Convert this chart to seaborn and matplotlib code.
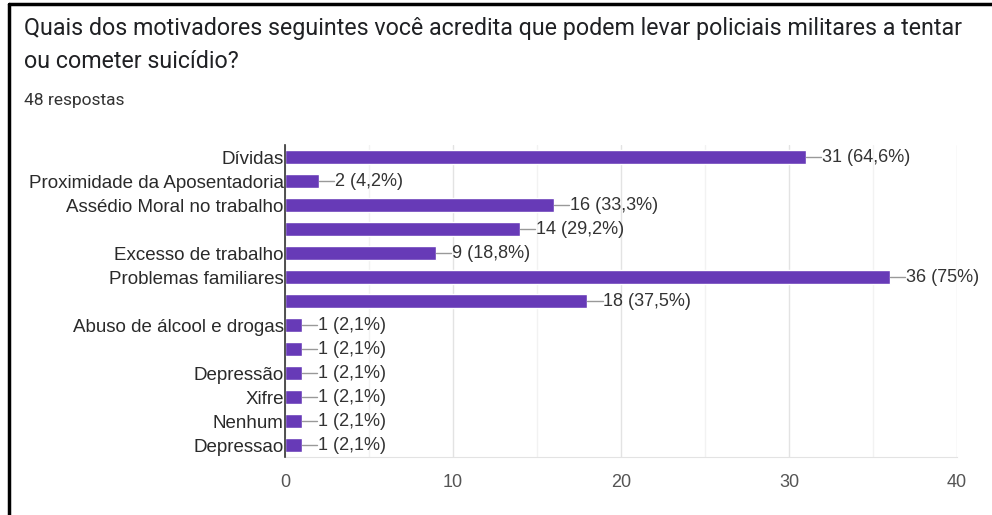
import matplotlib.pyplot as plt
import seaborn as sns
import pandas as pd
from matplotlib.lines import Line2D

# Dados do gráfico (respostas do formulário)
motivadores = [
    "Dívidas",
    "Proximidade da Aposentadoria",
    "Assédio Moral no trabalho",
    "",
    "Excesso de trabalho",
    "Problemas familiares",
    " ",
    "Abuso de álcool e drogas",
    "  ",
    "Depressão",
    "Xifre",
    "Nenhum",
    "Depressao",
]
respostas = [31, 2, 16, 14, 9, 36, 18, 1, 1, 1, 1, 1, 1]
total_respostas = 48

titulo_l1 = "Quais dos motivadores seguintes você acredita que podem levar policiais militares a tentar"
titulo_l2 = "ou cometer suicídio?"
subtitulo = f"{total_respostas} respostas"
xticks = [0, 10, 20, 30, 40]

df = pd.DataFrame({"motivador": motivadores, "respostas": respostas})

sns.set_style("white")
plt.rcParams['font.family'] = ['Liberation Sans', 'DejaVu Sans']

fig = plt.figure(figsize=(9.92, 5.15), dpi=100)
ax = fig.add_axes([0.2873, 0.1126, 0.6774, 0.6058])

roxo = "#673AB7"
sns.barplot(data=df, x="respostas", y="motivador", orient="h", color=roxo,
            width=0.6, saturation=1, ax=ax, zorder=3)

ax.set_xlim(0, 40)
ax.set_ylim(len(motivadores) - 0.5, -0.5)
ax.set_xticks(xticks)
ax.set_xticks([5, 15, 25, 35], minor=True)
ax.grid(axis="x", which="major", color="#e3e3e3", lw=1, zorder=0)
ax.grid(axis="x", which="minor", color="#f2f2f2", lw=1, zorder=0)
ax.set_xlabel("")
ax.set_ylabel("")

for lado in ["top", "right"]:
    ax.spines[lado].set_visible(False)
ax.spines["bottom"].set_color("#e3e3e3")
ax.spines["left"].set_color("#333333")
ax.spines["left"].set_linewidth(1.2)
ax.spines["left"].set_zorder(4)

ax.tick_params(axis="x", length=0, pad=12, labelsize=13, labelcolor="#555555")
ax.tick_params(axis="y", length=0, pad=1, labelsize=13.5, labelcolor="#2a2a2a")

# rótulos com linha de ligação
for i, v in enumerate(respostas):
    pct = f"{v / total_respostas * 100:.1f}".replace(".0", "").replace(".", ",")
    ax.plot([v, v + 0.9], [i, i], color="#999999", lw=1, zorder=4)
    ax.text(v + 0.95, i, f"{v} ({pct}%)", va="center", ha="left",
            fontsize=13, color="#333333", zorder=5)

fig.text(24 / 992, 1 - 28 / 515, titulo_l1, fontsize=16.75, family="Roboto",
         color="#202124", va="center", ha="left")
fig.text(24 / 992, 1 - 62 / 515, titulo_l2, fontsize=16.75, family="Roboto",
         color="#202124", va="center", ha="left")
fig.text(24 / 992, 1 - 100 / 515, subtitulo, fontsize=12.5, family="Roboto",
         color="#333333", va="center", ha="left")

# moldura da captura
fig.add_artist(Line2D([9 / 992, 9 / 992], [0, 1 - 4 / 515], color="black", lw=2.5,
                      transform=fig.transFigure))
fig.add_artist(Line2D([9 / 992, 1], [1 - 4 / 515, 1 - 4 / 515], color="black", lw=2.5,
                      transform=fig.transFigure))

fig.savefig("out.png", dpi=100)
